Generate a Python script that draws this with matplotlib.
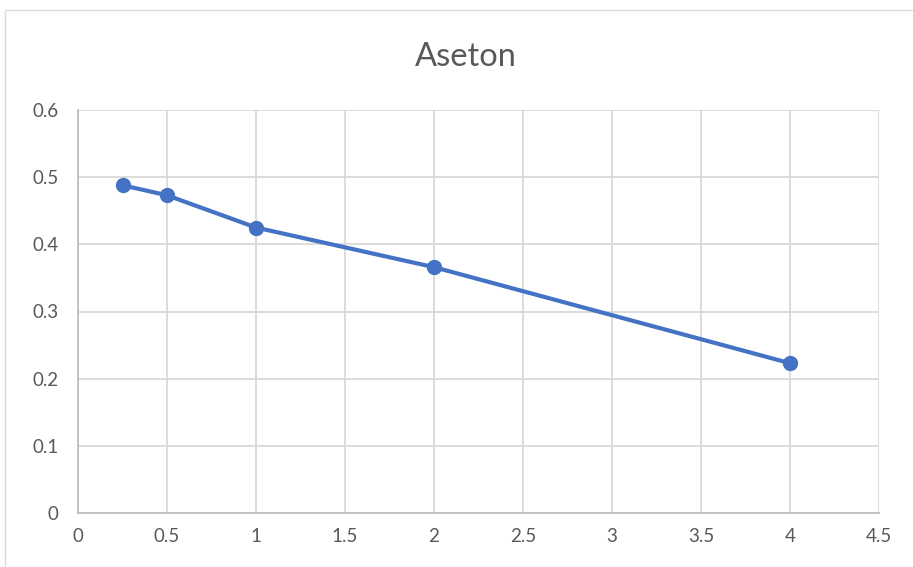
import matplotlib
matplotlib.use("Agg")
import matplotlib.pyplot as plt
from matplotlib.patches import Rectangle

# Data series
conc = [0.25, 0.5, 1, 2, 4]
absorb = [0.488, 0.473, 0.425, 0.366, 0.223]
x_ticks = [0, 0.5, 1, 1.5, 2, 2.5, 3, 3.5, 4, 4.5]
y_ticks = [0, 0.1, 0.2, 0.3, 0.4, 0.5, 0.6]
title = "Aseton"

plt.rcParams['font.family'] = ['Lato', 'DejaVu Sans']

fig = plt.figure(figsize=(9.13, 5.67), dpi=100)
fig.patch.set_facecolor("white")

# chart frame
fig.patches.append(Rectangle((5 / 913, -0.1), 1.2, (567 - 10) / 567 + 0.1,
                             transform=fig.transFigure, fill=False,
                             edgecolor="#d9d9d9", linewidth=1.0))

ax = fig.add_axes([78 / 913, 54 / 567, (879 - 78) / 913, (513 - 110) / 567])
ax.plot(conc, absorb, color="#4472C4", linewidth=3.0, marker="o",
        markersize=10, markerfacecolor="#4472C4", markeredgecolor="#4472C4",
        zorder=3)

ax.set_xlim(0, 4.5)
ax.set_ylim(0, 0.6)
ax.set_xticks(x_ticks)
ax.set_yticks(y_ticks)
ax.set_xticklabels([f"{v:g}" for v in x_ticks])
ax.set_yticklabels([f"{v:g}" for v in y_ticks])
ax.tick_params(length=0, labelsize=13.5, colors="#595959", pad=11)
ax.tick_params(axis="y", pad=14)
ax.grid(True, color="#d9d9d9", linewidth=1.3)
ax.set_axisbelow(True)
for side in ["top", "right"]:
    ax.spines[side].set_visible(False)
for side in ["left", "bottom"]:
    ax.spines[side].set_color("#bfbfbf")
    ax.spines[side].set_linewidth(1.3)

fig.text(466 / 913, 1 - 57 / 567, title, ha="center", va="center",
         fontsize=23.5, color="#595959")

fig.savefig("out.png", dpi=100)
